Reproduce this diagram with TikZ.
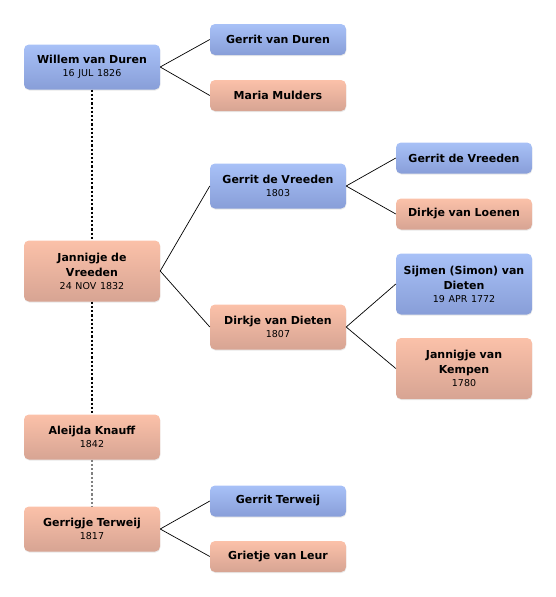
\documentclass[tikz,border=0pt]{standalone}
\usepackage{fontspec}
\setmainfont{DejaVu Sans}
\usepackage{xcolor}
\usepackage{tikz}
\usetikzlibrary{positioning,shadows}

\definecolor{maletop}{HTML}{A8C1F7}
\definecolor{malebot}{HTML}{889ED8}
\definecolor{femtop}{HTML}{FBC1A9}
\definecolor{fembot}{HTML}{D7A493}

\newcommand{\yr}[1]{{\mdseries\fontsize{9.5}{11}\selectfont #1}}

\begin{document}
\begin{tikzpicture}[
			x=1pt, y=-1pt,
			font=\fontsize{11}{15}\selectfont\bfseries,
			person/.style={
					rounded corners=5pt, minimum width=136pt, minimum height=31pt,
					text width=130pt, align=center, inner sep=1pt,
					drop shadow={opacity=0.18, shadow xshift=0.4pt, shadow yshift=-1pt}
				},
			male/.style={person, top color=maletop, bottom color=malebot},
			female/.style={person, top color=femtop, bottom color=fembot},
			dated/.style={minimum height=45pt},
			wrapped/.style={minimum height=61pt},
			link/.style={line width=0.7pt},
			descent/.style={line width=1.6pt, dash pattern=on 2.2pt off 2pt}
		]

		\useasboundingbox (0,0) rectangle (556,597);

		% Direct line
		\node[male, dated] (willem) at (92,67) {Willem van Duren\\[-2pt]\yr{16 JUL 1826}};
		\node[female, wrapped] (jannigje) at (92,271) {Jannigje de\\Vreeden\\[-2pt]\yr{24 NOV 1832}};
		\node[female, dated] (aleijda) at (92,437) {Aleijda Knauff\\[-2pt]\yr{1842}};
		\node[female, dated] (gerrigje) at (92,529) {Gerrigje Terweij\\[-2pt]\yr{1817}};

		% Parents
		\node[male] (gerritvd) at (278,39.5) {Gerrit van Duren};
		\node[female] (maria) at (278,95.5) {Maria Mulders};
		\node[male, dated] (gerritdv) at (278,186) {Gerrit de Vreeden\\[-2pt]\yr{1803}};
		\node[female, dated] (dirkjevd) at (278,327) {Dirkje van Dieten\\[-2pt]\yr{1807}};
		\node[male] (gerritt) at (278,501) {Gerrit Terweij};
		\node[female] (grietje) at (278,556.5) {Grietje van Leur};

		% Grandparents
		\node[male] (gerritdv2) at (464,158) {Gerrit de Vreeden};
		\node[female] (dirkjevl) at (464,214) {Dirkje van Loenen};
		\node[male, wrapped] (sijmen) at (464,284) {Sijmen (Simon) van\\Dieten\\[-2pt]\yr{19 APR 1772}};
		\node[female, wrapped] (jannigjevk) at (464,368.5) {Jannigje van\\Kempen\\[-2pt]\yr{1780}};

		% Descent
		\draw[descent] (willem.south) -- (jannigje.north);
		\draw[descent] (jannigje.south) -- (aleijda.north);
		\draw[descent, gray] (aleijda.south) -- (gerrigje.north);

		% Parent links
		\draw[link] (willem.east) -- (gerritvd.west);
		\draw[link] (willem.east) -- (maria.west);
		\draw[link] (jannigje.east) -- (gerritdv.west);
		\draw[link] (jannigje.east) -- (dirkjevd.west);
		\draw[link] (gerritdv.east) -- (gerritdv2.west);
		\draw[link] (gerritdv.east) -- (dirkjevl.west);
		\draw[link] (dirkjevd.east) -- (sijmen.west);
		\draw[link] (dirkjevd.east) -- (jannigjevk.west);
		\draw[link] (gerrigje.east) -- (gerritt.west);
		\draw[link] (gerrigje.east) -- (grietje.west);

	\end{tikzpicture}
\end{document}
